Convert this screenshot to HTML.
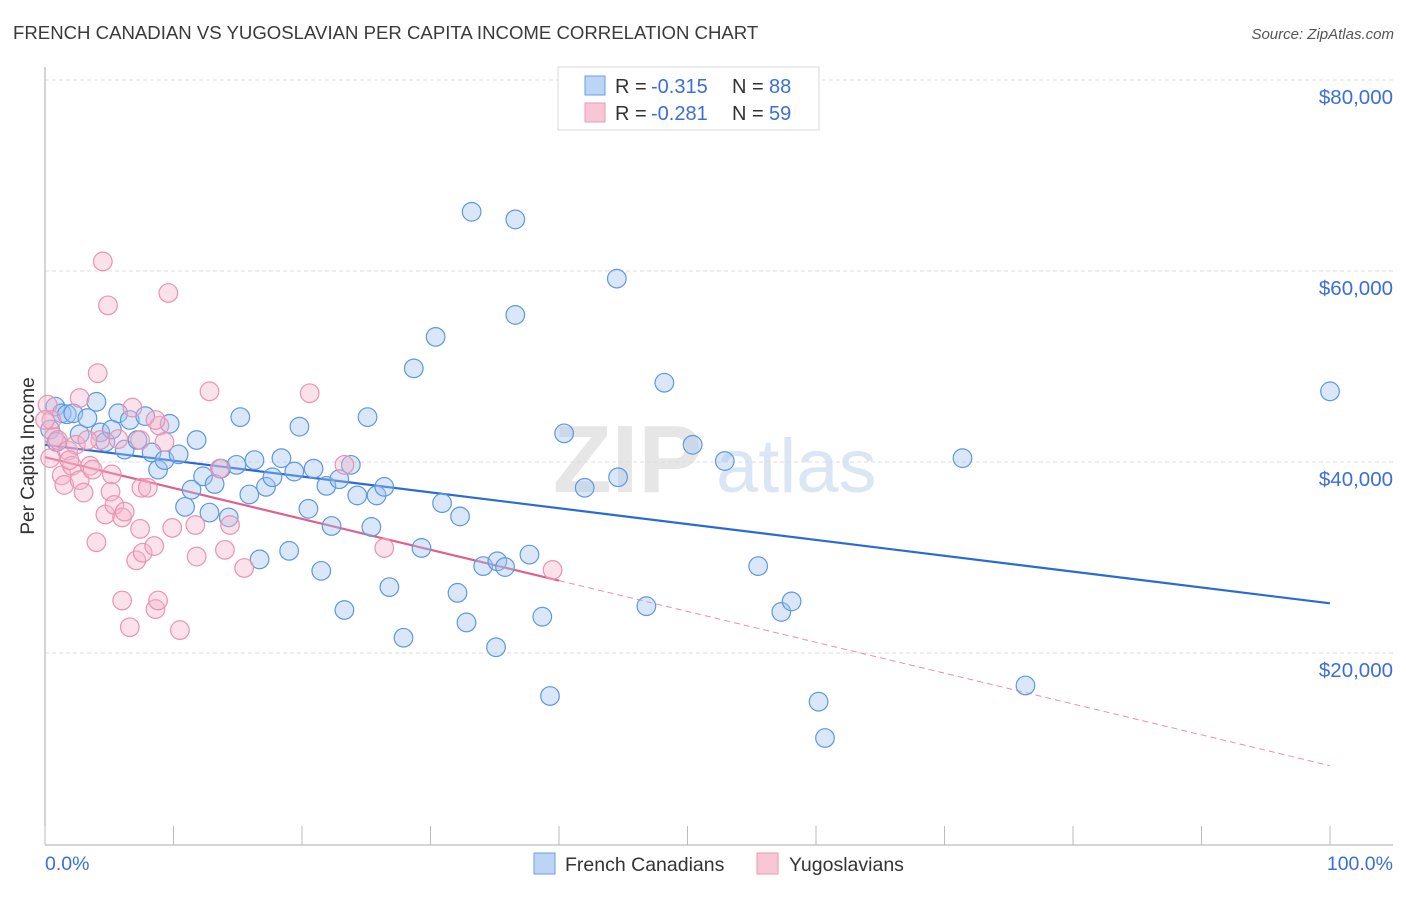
<!DOCTYPE html>
<html><head><meta charset="utf-8">
<style>
body{margin:0;background:#fff;font-family:"Liberation Sans",sans-serif;}
svg text{font-family:"Liberation Sans",sans-serif;}
</style></head>
<body>
<svg id="chart" width="1406" height="892" viewBox="0 0 1406 892" xmlns="http://www.w3.org/2000/svg">
<text x="13" y="39" font-size="18.6" fill="#3a3a3a">FRENCH CANADIAN VS YUGOSLAVIAN PER CAPITA INCOME CORRELATION CHART</text>
<text x="1394" y="39" font-size="15" fill="#555" font-style="italic" text-anchor="end">Source: ZipAtlas.com</text>
<g>
<text x="553" y="492" font-size="96" fill="#e6e6e6" font-family="Liberation Serif,serif" font-weight="bold">ZIP</text>
<text x="716" y="492" font-size="76" fill="#dbe6f5">atlas</text>
</g>
<g id="grid"></g>
<g id="axes"></g>
<g id="trend"></g>
<g id="pts"></g>
<text transform="translate(34,456) rotate(-90)" font-size="19" fill="#333" text-anchor="middle">Per Capita Income</text>
<g>
<rect x="558" y="67" width="261" height="63" fill="#fff" stroke="#d8d8d8"/>
<rect x="585" y="76" width="20" height="19" fill="#bcd4f5" stroke="#6a9fe0"/>
<rect x="585" y="103" width="20" height="19" fill="#f9c6d6" stroke="#eb98b4"/>
<text x="615" y="93" font-size="20" fill="#333">R = </text>
<text x="651" y="93" font-size="20" fill="#3a6fd8">-0.315</text>
<text x="732" y="93" font-size="20" fill="#333">N = </text>
<text x="769" y="93" font-size="20" fill="#3a6fd8">88</text>
<text x="615" y="120" font-size="20" fill="#333">R = </text>
<text x="651" y="120" font-size="20" fill="#3a6fd8">-0.281</text>
<text x="732" y="120" font-size="20" fill="#333">N = </text>
<text x="769" y="120" font-size="20" fill="#3a6fd8">59</text>
</g>
<g>
<rect x="534" y="853" width="21" height="21" fill="#bcd4f5" stroke="#6a9fe0"/>
<text x="565" y="871" font-size="19.5" fill="#333">French Canadians</text>
<rect x="757" y="853" width="21" height="21" fill="#f9c6d6" stroke="#eb98b4"/>
<text x="789" y="871" font-size="19.5" fill="#333">Yugoslavians</text>
</g>
</svg>
<script>
const yTicks=[20000,40000,60000,80000];
const yTickLabels=["$20,000","$40,000","$60,000","$80,000"];
const xTickVals=[0,10,20,30,40,50,60,70,80,90,100];
const blueX=[0.8,1.3,1.7,2.2,0.4,0.9,2.7,3.3,4.0,4.3,4.7,5.2,5.7,6.2,6.6,7.2,7.8,8.3,8.8,9.3,9.7,10.4,10.9,11.4,11.8,12.3,12.8,13.2,13.7,14.3,14.9,15.2,15.9,16.3,16.7,17.2,17.7,18.4,19.0,19.4,19.8,20.5,20.9,21.5,21.9,22.3,22.9,23.3,23.8,24.3,25.1,25.4,25.8,26.4,26.8,27.9,28.7,29.3,30.4,30.9,32.1,32.3,32.8,33.2,34.1,35.1,35.2,35.8,36.6,36.6,37.7,38.7,39.3,40.4,42.0,44.5,44.6,46.8,48.2,50.4,52.9,55.5,57.3,58.1,60.2,60.7,71.4,76.3,100];
const blueY=[45.8,45.1,45.0,45.1,43.4,42.1,42.9,44.6,46.3,43.1,42.1,43.4,45.1,41.3,44.4,42.3,44.8,41.0,39.2,40.2,44.0,40.8,35.3,37.1,42.3,38.5,34.7,37.7,39.3,34.2,39.7,44.7,36.6,40.2,29.8,37.4,38.4,40.4,30.7,39.0,43.7,35.1,39.3,28.6,37.5,33.3,38.2,24.5,39.7,36.5,44.7,33.2,36.5,37.4,26.9,21.6,49.8,31.0,53.1,35.7,26.3,34.3,23.2,66.2,29.1,20.6,29.6,29.0,65.4,55.4,30.3,23.8,15.5,43.0,37.3,59.2,38.4,24.9,48.3,41.8,40.1,29.1,24.3,25.4,14.9,11.1,40.4,16.6,47.4];
const pinkX=[0.2,0.5,0.7,1.0,1.3,1.5,1.8,2.1,2.4,2.7,2.7,3.0,3.5,3.7,4.0,4.1,4.5,4.7,4.9,5.1,5.2,5.4,5.7,6.0,6.0,6.2,6.6,6.8,7.1,7.4,7.5,7.6,8.0,8.5,8.6,8.8,8.9,9.3,9.6,9.9,10.5,11.7,11.8,12.8,13.6,14.0,14.4,15.5,20.6,23.3,26.4,39.5,0.0,0.4,4.3,7.4,1.9,3.3,8.6];
const pinkY=[46.0,44.4,42.6,42.3,38.6,37.6,41.2,39.6,41.8,46.7,38.1,36.8,39.6,39.2,31.6,49.3,61.0,34.5,56.4,36.9,38.7,35.5,42.4,34.2,25.5,34.8,22.7,45.7,29.7,33.0,37.3,30.5,37.3,31.2,24.6,25.5,43.8,42.1,57.7,33.1,22.4,33.4,30.1,47.4,39.3,30.8,33.4,28.9,47.2,39.7,31.0,28.7,44.4,40.4,42.3,42.3,40.2,42.3,44.4];
const blueTrend=[41.8,25.2];
const pinkTrend=[40.5,8.2];
const pinkSolidEnd=40;

const NS="http://www.w3.org/2000/svg";
const X=p=>45+p*12.85;
const Y=v=>844-v*191/20000;
function mk(tag,attrs,parent){const e=document.createElementNS(NS,tag);for(const k in attrs)e.setAttribute(k,attrs[k]);parent.appendChild(e);return e;}
const grid=document.getElementById('grid'),axes=document.getElementById('axes'),trend=document.getElementById('trend'),pts=document.getElementById('pts');
yTicks.forEach((t,i)=>{
 const l=mk('line',{x1:45,x2:1393,y1:Y(t),y2:Y(t),stroke:'#dcdcdc','stroke-dasharray':'4,3'},grid);
 
 
 const tx=mk('text',{x:1393,y:Y(t)+24,'font-size':20.5,fill:'#3a6fd8','text-anchor':'end'},axes);
 tx.textContent=yTickLabels[i];
 
 
});
const ya=mk('line',{x1:45,x2:45,y1:67,y2:845,stroke:'#aaa'},axes);


const xa=mk('line',{x1:45,x2:1393,y1:845,y2:845,stroke:'#aaa'},axes);


xTickVals.forEach(v=>{
 const t=mk('line',{x1:X(v),x2:X(v),y1:826,y2:845,stroke:'#bbb'},axes);
 
 
});
const xl0=mk('text',{x:45,y:870,'font-size':19.5,fill:'#3a6fd8'},axes);xl0.textContent='0.0%';


const xl1=mk('text',{x:1393,y:870,'font-size':19.5,fill:'#3a6fd8','text-anchor':'end'},axes);xl1.textContent='100.0%';



blueX.forEach((x,i)=>{
 const c=mk('circle',{cx:X(x),cy:Y(blueY[i]*1000),r:9.3,fill:'rgba(160,196,240,0.4)',stroke:'#5e98e0','stroke-width':1.2},pts);
 
 
});
pinkX.forEach((x,i)=>{
 const c=mk('circle',{cx:X(x),cy:Y(pinkY[i]*1000),r:9.3,fill:'rgba(246,180,202,0.4)',stroke:'#ea93b1','stroke-width':1.2},pts);
 
 
});
const bt=mk('line',{x1:X(0),y1:Y(blueTrend[0]*1000),x2:X(100),y2:Y(blueTrend[1]*1000),stroke:'#2a6ad8','stroke-width':2.2},trend);


const pv=p=>pinkTrend[0]+(pinkTrend[1]-pinkTrend[0])*p/100;
const pt=mk('line',{x1:X(0),y1:Y(pv(0)*1000),x2:X(pinkSolidEnd),y2:Y(pv(pinkSolidEnd)*1000),stroke:'#e0608c','stroke-width':2.2},trend);


const pd=mk('line',{x1:X(pinkSolidEnd),y1:Y(pv(pinkSolidEnd)*1000),x2:X(100),y2:Y(pv(100)*1000),stroke:'#e890ac','stroke-width':1,'stroke-dasharray':'6,4'},trend);


</script>
</body></html>
